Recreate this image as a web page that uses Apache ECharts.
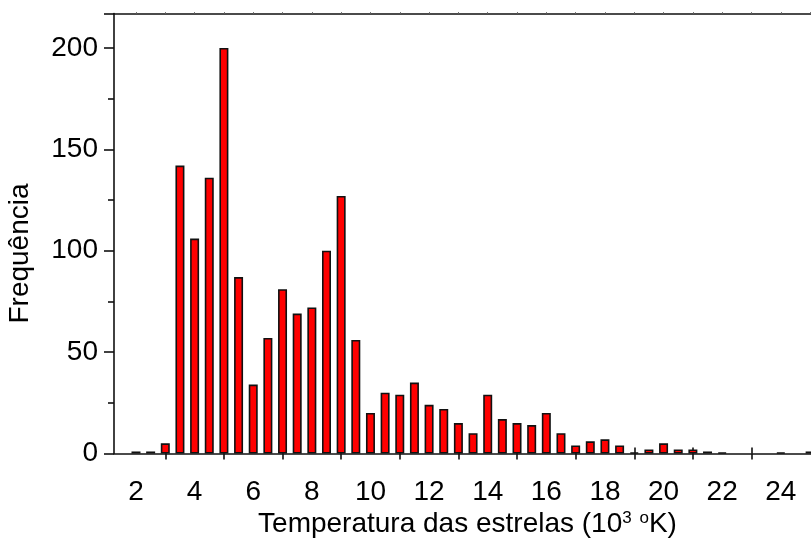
<!DOCTYPE html>
<html>
<head>
<meta charset="utf-8">
<script src="https://cdn.jsdelivr.net/npm/echarts@6/dist/echarts.min.js"></script>
<style>
  html, body { margin: 0; padding: 0; background: #fff; }
  #chart { width: 811px; height: 541px; }
</style>
</head>
<body>
<div id="chart"></div>
<script>
// Bin centres (10^3 K) and the number of stars in each bin
const binCenters = [2.0, 2.5, 3.0, 3.5, 4.0, 4.5, 5.0, 5.5, 6.0, 6.5, 7.0, 7.5, 8.0, 8.5, 9.0, 9.5,
  10.0, 10.5, 11.0, 11.5, 12.0, 12.5, 13.0, 13.5, 14.0, 14.5, 15.0, 15.5, 16.0, 16.5, 17.0, 17.5,
  18.0, 18.5, 19.0, 19.5, 20.0, 20.5, 21.0, 21.5, 22.0, 24.0, 25.0];
const counts = [1, 1, 5, 142, 106, 136, 200, 87, 34, 57, 81, 69, 72, 100, 127, 56,
  20, 30, 29, 35, 24, 22, 15, 10, 29, 17, 15, 14, 20, 10, 4, 6,
  7, 4, 0.5, 2, 5, 2, 2, 1, 0.5, 0.5, 1];

// Axis labels and tick positions
const xLabelValues = [2, 4, 6, 8, 10, 12, 14, 16, 18, 20, 22, 24];
const xTickValues = [3, 5, 7, 9, 11, 13, 15, 17, 19, 21, 23];
const xTopTickValues = [2, 3, 4, 5, 6, 7, 8, 9, 10, 11, 12, 13, 14, 15, 16, 17, 18, 19, 20, 21, 22, 23, 24, 25];

const xTitle = 'Temperatura das estrelas (10{sup|3} {sup|o}K)';
const yTitle = 'Frequência';

const FONT = '"Liberation Sans", Arial, sans-serif';
const INK = '#111';

const chart = echarts.init(document.getElementById('chart'), null, { renderer: 'canvas' });

const xMin = 1.25, xMax = 25.03;

chart.setOption({
  animation: false,
  backgroundColor: '#fff',
  grid: { left: 114, right: 0, top: 13.5, bottom: 87.5, containLabel: false, outerBoundsMode: 'none' },
  xAxis: [
    {
      type: 'value', position: 'bottom', min: xMin, max: xMax,
      axisLine: { show: true, onZero: false, lineStyle: { color: INK, width: 1.6 } },
      axisTick: { show: true, inside: false, length: 6, customValues: xTickValues,
        lineStyle: { color: INK, width: 1.6 } },
      axisLabel: { show: true, customValues: xLabelValues, margin: 25,
        fontFamily: FONT, fontSize: 28, color: '#000' },
      splitLine: { show: false },
      name: xTitle, nameLocation: 'middle', nameGap: 71, nameMoveOverlap: false,
      nameTextStyle: {
        fontFamily: FONT, fontSize: 28, lineHeight: 30, color: '#000', verticalAlign: 'middle', padding: [0, 0, 0, 10],
        rich: { sup: { fontFamily: FONT, fontSize: 17, lineHeight: 30, color: '#000', verticalAlign: 'top', padding: [0, 0, 6, 0] } }
      }
    },
    {
      // inner half of the crossing ticks on the bottom axis
      type: 'value', position: 'bottom', min: xMin, max: xMax,
      axisLine: { show: false },
      axisTick: { show: true, inside: true, length: 6, customValues: xTickValues,
        lineStyle: { color: INK, width: 1.6 } },
      axisLabel: { show: false }, splitLine: { show: false }
    },
    {
      // top frame
      type: 'value', position: 'top', min: xMin, max: xMax,
      axisLine: { show: true, lineStyle: { color: INK, width: 1.6 } },
      axisTick: { show: true, inside: false, length: 1.5, customValues: xTopTickValues,
        lineStyle: { color: '#777', width: 1 } },
      axisLabel: { show: false }, splitLine: { show: false }
    }
  ],
  yAxis: {
    type: 'value', min: 0, max: 217, interval: 50,
    axisLine: { show: true, lineStyle: { color: INK, width: 1.6 } },
    axisTick: { show: true, inside: false, length: 10, lineStyle: { color: INK, width: 1.6 } },
    minorTick: { show: true, splitNumber: 2, length: 6, lineStyle: { color: INK, width: 1.6 } },
    axisLabel: { margin: 16, fontFamily: FONT, fontSize: 28, color: '#000', showMaxLabel: false },
    splitLine: { show: false },
    name: yTitle, nameLocation: 'middle', nameGap: 80, nameRotate: 90, nameMoveOverlap: false,
    nameTextStyle: { fontFamily: FONT, fontSize: 28, color: '#000', padding: [0, 40, 0, 0] }
  },
  series: [{
    type: 'bar',
    xAxisIndex: 0,
    barWidth: 9,
    clip: true,
    data: binCenters.map((x, i) => [x, counts[i]]),
    itemStyle: { color: '#ff0000', borderColor: INK, borderWidth: 1.6 }
  }]
});
</script>
</body>
</html>
